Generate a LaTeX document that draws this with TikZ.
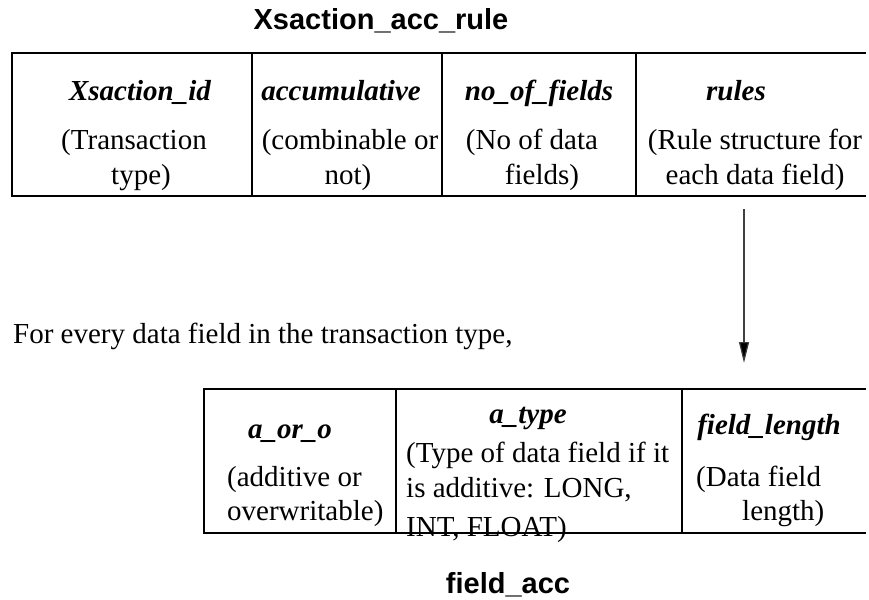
\documentclass[tikz,border=0pt]{standalone}
\usepackage{fontspec}
\setmainfont{Liberation Serif}
\newfontfamily\titlefont{Liberation Sans}
\usetikzlibrary{arrows.meta}
\tikzset{
  txt/.style={inner sep=0pt, font=\fontsize{29}{34}\selectfont},
  hdr/.style={inner sep=0pt, font=\fontsize{29}{34}\selectfont\bfseries\itshape},
  ttl/.style={inner sep=0pt, font=\titlefont\fontsize{29}{33}\selectfont\bfseries},
  tline/.style={line width=1.5pt, black},
  flow/.style={line width=1.2pt, black!75, -{Triangle[length=21pt,width=10pt,fill=black]}}
}
\begin{document}
\begin{tikzpicture}[x=1pt,y=-1pt]
\useasboundingbox (0,0) rectangle (869,599);
% title
\node[ttl, anchor=base] (t1) at (381,30) {Xsaction\_acc\_rule};
% top table
\draw[tline] (866,53) -- (12,53) -- (12,196) -- (866,196);
\draw[tline] (252,53) -- (252,196);
\draw[tline] (442,53) -- (442,196);
\draw[tline] (636,53) -- (636,196);
\node[hdr, anchor=base] (h1) at (140,101) {Xsaction\_id};
\node[txt, anchor=base] (a1) at (134,149) {(Transaction};
\node[txt, anchor=base] (b1) at (141,184) {type)};
\node[hdr, anchor=base] (h2) at (341,101) {accumulative};
\node[txt, anchor=base] (a2) at (350,149) {(combinable or};
\node[txt, anchor=base] (b2) at (348,184) {not)};
\node[hdr, anchor=base] (h3) at (539,101) {no\_of\_fields};
\node[txt, anchor=base] (a3) at (532,149) {(No of data};
\node[txt, anchor=base] (b3) at (542,184) {fields)};
\node[hdr, anchor=base] (h4) at (736,101) {rules};
\node[txt, anchor=base] (a4) at (755,149) {(Rule structure for};
\node[txt, anchor=base] (b4) at (755,184) {each data field)};
% arrow
\coordinate (arrS) at (744,209);
\coordinate (arrE) at (744,363);
\draw[flow] (arrS) -- (arrE);
% sentence
\node[txt, anchor=base west] (s1) at (13,343) {For every data field in the transaction type,};
% bottom table
\draw[tline] (866,389) -- (204,389) -- (204,533) -- (866,533);
\draw[tline] (396,389) -- (396,533);
\draw[tline] (682,389) -- (682,533);
\node[hdr, anchor=base] (g1) at (290,438) {a\_or\_o};
\node[txt, anchor=base west] (c1) at (227,486) {(additive or};
\node[txt, anchor=base west] (d1) at (227,520) {overwritable)};
\node[hdr, anchor=base] (g2) at (528,423) {a\_type};
\node[txt, anchor=base west] (c2) at (406,462) {(Type of data field if it};
\node[txt, anchor=base west] (d2) at (406,497) {is additive: LONG,};
\node[txt, anchor=base west] (e2) at (406,536) {INT, FLOAT)};
\node[hdr, anchor=base] (g3) at (769,434) {field\_length};
\node[txt, anchor=base west] (c3) at (696,486) {(Data field};
\node[txt, anchor=base west] (d3) at (742,520) {length)};
% title below
\node[ttl, anchor=base] (t2) at (508,593) {field\_acc};
\end{tikzpicture}
\end{document}
